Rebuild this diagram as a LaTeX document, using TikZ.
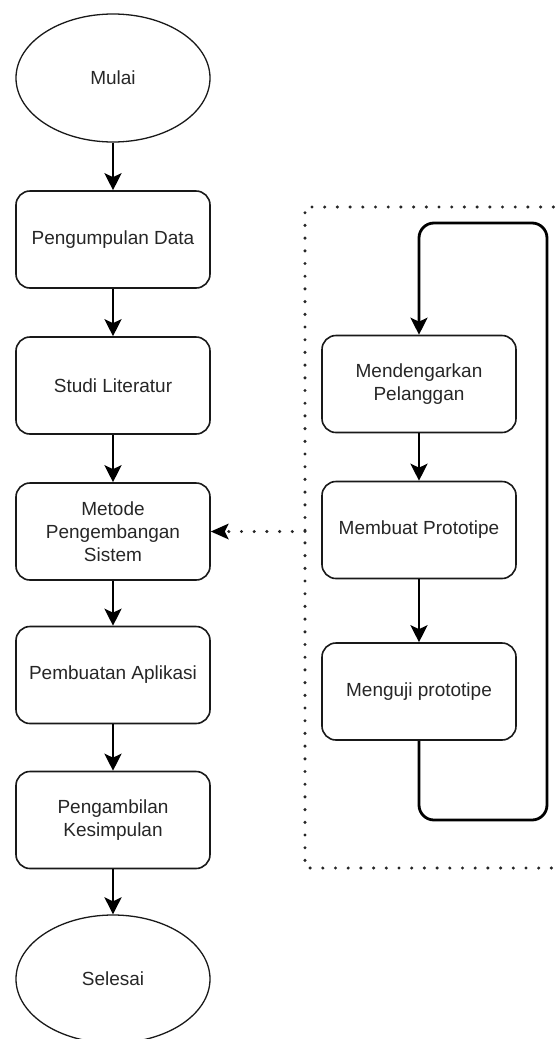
\documentclass[tikz,border=0pt]{standalone}
\usepackage{fontspec}
\setmainfont{Liberation Sans}
\usetikzlibrary{arrows.meta,shapes.geometric}
\begin{document}
\begin{tikzpicture}[x=1pt,y=-1pt,
  every node/.style={font=\fontsize{19}{23}\selectfont, text=black!85},
  procbox/.style={draw=black!90, line width=1.6pt, rounded corners=14pt, minimum width=194pt, minimum height=97pt, align=center, inner sep=0pt},
  termnode/.style={draw=black!90, line width=1.3pt, ellipse, minimum width=194pt, minimum height=128pt, inner sep=0pt},
  flow/.style={draw=black, line width=2.8pt, -{Stealth[length=17pt,width=17pt,inset=4pt]}},
  loopline/.style={draw=black, line width=2.8pt, rounded corners=15pt},
  dotline/.style={draw=black!85, line width=3.4pt, line cap=round, dash pattern=on 0pt off 12.7pt}
]
\useasboundingbox (0,0) rectangle (555,1039);
% left column
\node[termnode] (mulai) at (113,78) {Mulai};
\node[procbox] (data) at (113,239.5) {Pengumpulan Data};
\node[procbox] (studi) at (113,385.5) {Studi Literatur};
\node[procbox] (metode) at (113,531.5) {Metode\\Pengembangan\\Sistem};
\node[procbox] (buat) at (113,675) {Pembuatan Aplikasi};
\node[procbox] (ambil) at (113,820) {Pengambilan\\Kesimpulan};
\node[termnode] (selesai) at (113,979) {Selesai};
\draw[flow] (mulai) -- (data);
\draw[flow] (data) -- (studi);
\draw[flow] (studi) -- (metode);
\draw[flow] (metode) -- (buat);
\draw[flow] (buat) -- (ambil);
\draw[flow] (ambil) -- (selesai);
% right column
\node[procbox] (dengar) at (419,384) {Mendengarkan\\Pelanggan};
\node[procbox] (proto) at (419,530) {Membuat Prototipe};
\node[procbox] (uji) at (419,691.5) {Menguji prototipe};
\draw[flow] (dengar) -- (proto);
\draw[flow] (proto) -- (uji);
\coordinate (lb) at (419,820);
\coordinate (rb) at (547,820);
\coordinate (rt) at (547,223);
\coordinate (lt) at (419,223);
\draw[loopline, flow] (uji.south) -- (lb) -- (rb) -- (rt) -- (lt) -- (dengar.north);
% dotted frame
\coordinate (ftr) at (566,207);
\coordinate (ftl) at (305,207);
\coordinate (fbl) at (305,868);
\coordinate (fbr) at (566,868);
\coordinate (fmid) at (305,531.5);
\draw[dotline] (ftr) -- (ftl) -- (fbl) -- (fbr);
\draw[dotline] (fmid) -- ([xshift=17pt]metode.east);
\draw[draw=none, fill=black, line width=0pt] (metode.east) -- ++(18,-8) -- ++(-4,8) -- ++(4,8) -- cycle;
\end{tikzpicture}
\end{document}
